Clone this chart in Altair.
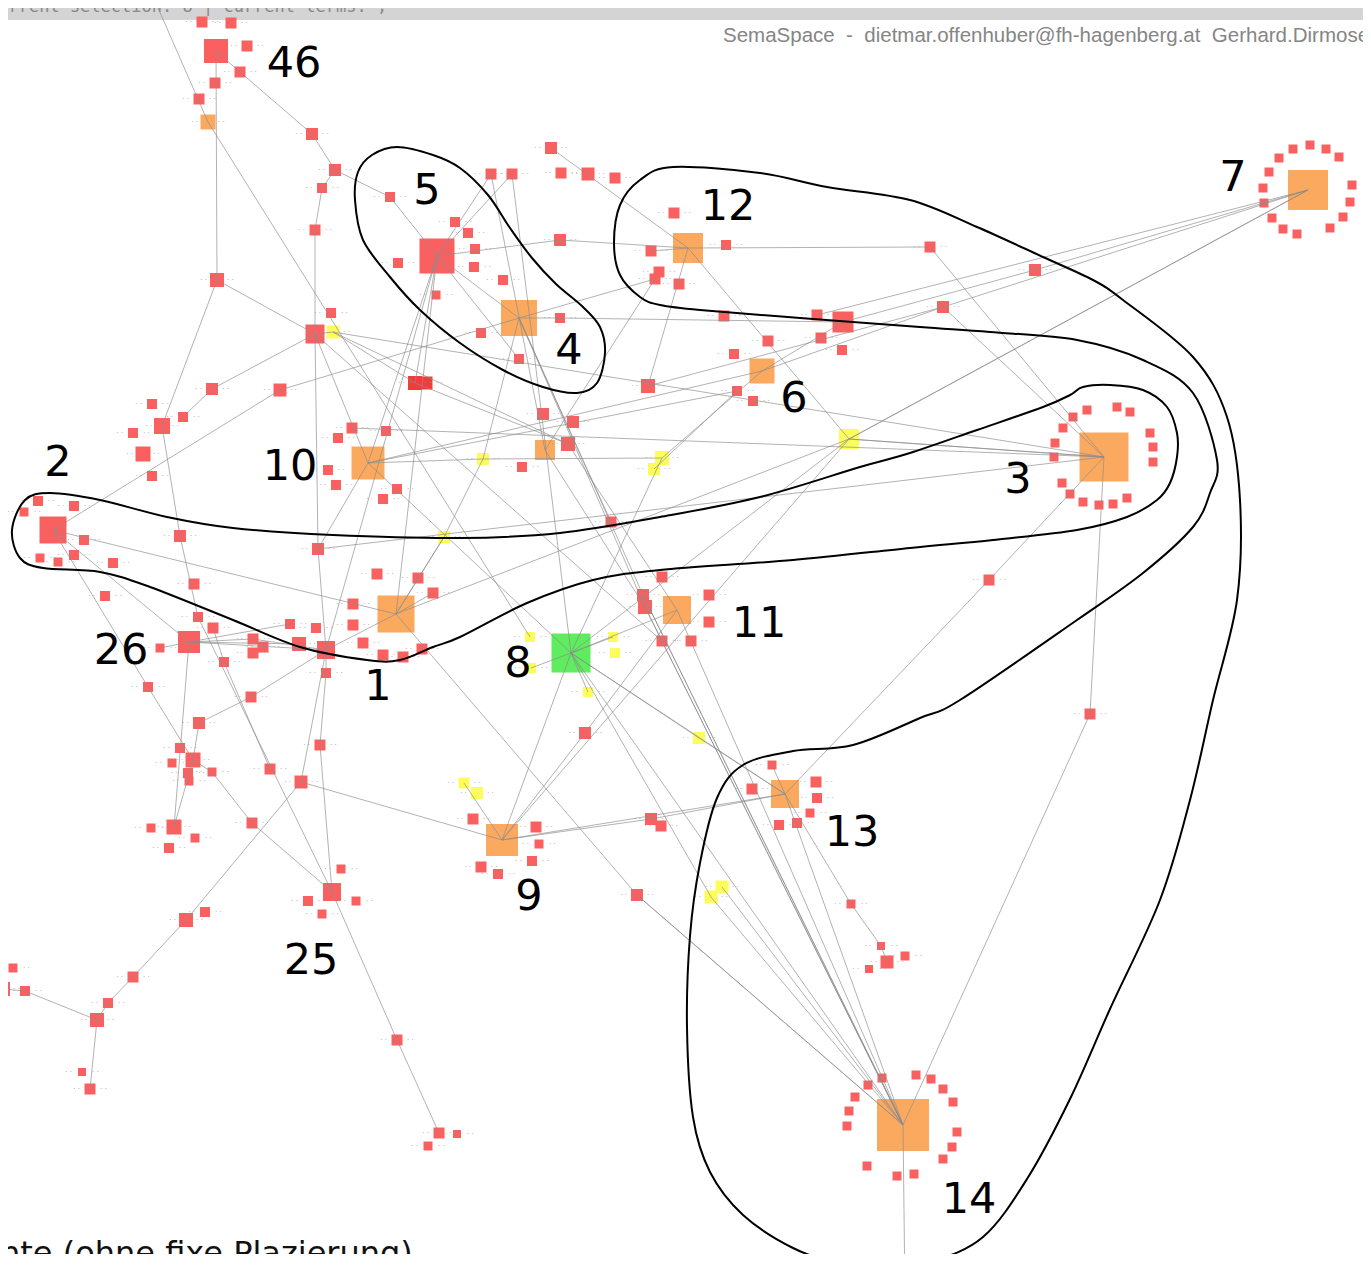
import altair as alt
import pandas as pd

# ---------------- hubs ----------------
hub_names = ["46", "5", "4", "12", "7", "6", "3", "10", "2", "1", "26", "8", "11", "13", "9", "25", "14"]
hub_x = [216, 437, 519, 688, 1308, 762, 1104, 368, 53, 396, 189, 571, 677, 785, 502, 332, 903]
hub_y = [51, 256, 318, 248, 190, 371, 457, 463, 530, 614, 642, 653, 610, 794, 840, 892, 1125]
hub_side = [24, 35, 36, 30, 40, 25, 49, 33, 27, 37, 22, 39, 28, 28, 32, 18, 52]
hub_kind = ["r", "r", "o", "o", "o", "o", "o", "o", "r", "o", "r", "g", "o", "o", "o", "r", "o"]

# label positions (center x, baseline y)
label_text = ["46", "5", "12", "7", "4", "6", "2", "10", "3", "11", "26", "8", "1", "13", "9", "25", "14"]
label_x = [294, 427, 728, 1233, 569, 794, 58, 290, 1018, 759, 121, 518, 378, 852, 529, 311, 969]
label_y = [77, 204, 220, 191, 364, 412, 476, 480, 493, 637, 664, 677, 700, 846, 910, 974, 1213]

# ---------------- other nodes ----------------
small_names = [
    "top0", "bot0",
    "a1", "a2", "a3", "a4", "a5", "a6", "a7", "a8", "a9", "a10", "a11", "a12", "a13", "a14", "a15", "a16",
    "a17", "a18", "a19", "a20", "a21", "a22", "a23", "a24", "a25", "a26", "a27", "a28", "a29", "a30",
    "a31", "a32", "a33", "a34", "a35", "a36",
    "b1", "b2", "b3", "b4", "b4a", "b5", "b6", "b7", "b8", "b9", "b10", "b11", "b12", "b13", "b14", "b15",
    "b16", "b17", "b18", "b19", "b20", "b21", "b22", "b23", "b24", "b25", "b26", "b27", "b28", "b29",
    "b30", "b31", "b32", "b33", "b34", "b35", "b36", "b37", "b38", "b39", "b40", "b41", "b42", "b43",
    "c1", "c2", "c3", "c4", "c5", "c6", "c7", "c8", "c9", "c10", "c11", "c12", "c13", "c14", "c15",
    "c16", "c17", "c18", "c19", "c20", "c21", "c22", "c23", "c24", "c25", "c26", "c27", "c28", "c29",
    "c30", "c31", "c32", "c33", "c34", "c35", "c36", "c37", "c38", "c39", "c40", "c41", "c42", "c43",
    "c44", "c45", "c46", "c47", "c48",
    "d1", "d2", "d3", "d4", "d5", "d6", "d7", "d8", "d9", "d10", "d11", "d12", "d13", "d14", "d15",
    "d16", "d17", "d18", "d19", "d20", "d21", "d22", "d23", "d24", "d25", "d26", "d27", "d28", "d29",
    "d30", "d31", "d32", "d33", "d34", "d35", "d36", "d37", "d38", "d39", "d40", "d41", "d42", "d43",
    "d44", "d45", "d46", "d47", "d48", "d49", "d50", "d51", "d52", "d53", "d54", "d55", "d56", "d57",
    "d58", "d59", "d60", "d61",
]
small_x = [
    148, 905,
    208, 199, 215, 240, 247, 202, 231, 312, 335, 322, 315, 390, 217, 398, 455, 436,
    551, 491, 512, 561, 588, 615, 560, 468, 475, 474, 503, 674, 726, 651,
    659, 655, 679, 930, 1035, 943,
    315, 333, 331, 415, 426, 212, 280, 152, 183, 162, 133, 143, 152, 352, 386, 338,
    328, 336, 397, 383, 560, 481, 519, 543, 573, 568, 522, 611, 724, 817,
    843, 768, 821, 842, 734, 648, 737, 753, 545, 483, 662, 654, 849, 444,
    38, 24, 74, 84, 74, 40, 58, 113, 180, 318, 194, 105, 198, 213, 377,
    418, 433, 353, 353, 363, 383, 403, 422, 160, 224, 253, 263, 253, 290,
    299, 326, 326, 316, 148, 662, 643, 645, 709, 709, 662, 691, 530, 613,
    615, 531, 588, 989, 1090,
    251, 199, 180, 193, 172, 188, 189, 212, 270, 320, 301, 252, 174, 151, 195,
    169, 341, 308, 356, 322, 205, 186, 133, 108, 97, 13, 3, 25, 82,
    90, 397, 439, 428, 457, 585, 699, 772, 752, 816, 817, 810, 779, 797,
    464, 477, 473, 536, 539, 532, 481, 498, 651, 661, 637, 722, 711, 851,
    881, 887, 905, 869,
]
small_y = [
    -15, 1295,
    122, 99, 83, 72, 46, 22, 23, 134, 170, 188, 230, 197, 280, 263, 222, 295,
    148, 174, 174, 173, 174, 178, 240, 233, 249, 267, 280, 213, 245, 251,
    272, 279, 284, 247, 270, 307,
    334, 332, 313, 383, 383, 389, 390, 404, 417, 426, 433, 454, 476, 428, 431, 438,
    470, 485, 489, 499, 318, 333, 359, 414, 422, 444, 467, 522, 316, 315,
    322, 341, 338, 350, 354, 386, 391, 401, 450, 459, 458, 469, 439, 537,
    501, 512, 506, 540, 555, 558, 562, 563, 536, 549, 584, 596, 617, 628, 574,
    578, 593, 604, 625, 643, 655, 657, 649, 648, 662, 639, 647, 653, 624,
    644, 650, 673, 628, 687, 577, 595, 607, 595, 622, 641, 641, 637, 637,
    653, 668, 692, 580, 714,
    697, 723, 748, 760, 763, 773, 781, 772, 769, 745, 782, 823, 827, 828, 838,
    848, 869, 901, 901, 914, 912, 920, 977, 1003, 1020, 968, 989, 991, 1072,
    1089, 1040, 1133, 1146, 1134, 733, 738, 765, 789, 782, 798, 813, 825, 823,
    783, 793, 819, 827, 844, 861, 867, 874, 819, 826, 895, 887, 897, 904,
    946, 962, 956, 969,
]
small_side = [
    12, 0,
    15, 11, 11, 11, 11, 11, 11, 12, 12, 10, 11, 10, 14, 10, 10, 9,
    12, 11, 11, 11, 13, 11, 12, 10, 10, 10, 10, 11, 10, 11,
    11, 11, 11, 11, 12, 12,
    19, 13, 10, 14, 13, 12, 13, 10, 10, 16, 10, 15, 10, 11, 10, 10,
    10, 10, 10, 10, 10, 10, 10, 12, 12, 14, 10, 11, 11, 11,
    21, 11, 11, 10, 10, 14, 10, 10, 20, 12, 14, 12, 20, 12,
    10, 9, 10, 10, 10, 9, 9, 10, 12, 12, 11, 10, 10, 11, 11,
    11, 11, 11, 11, 11, 11, 11, 11, 9, 10, 11, 11, 11, 10,
    14, 18, 10, 10, 10, 11, 12, 14, 11, 11, 11, 11, 10, 10,
    10, 10, 10, 11, 11,
    11, 12, 10, 15, 9, 10, 9, 9, 11, 11, 13, 11, 15, 9, 9,
    10, 9, 10, 9, 9, 10, 14, 11, 10, 14, 9, 14, 10, 8,
    11, 11, 11, 9, 8, 12, 12, 9, 11, 11, 10, 9, 10, 10,
    11, 12, 11, 11, 9, 10, 11, 10, 12, 11, 12, 13, 13, 9,
    8, 13, 9, 8,
]
small_kind = [
    "r", "r",
    "o", "r", "r", "r", "r", "r", "r", "r", "r", "r", "r", "r", "r", "r", "r", "r",
    "r", "r", "r", "r", "r", "r", "r", "r", "r", "r", "r", "r", "r", "r",
    "r", "r", "r", "r", "r", "r",
    "r", "y", "r", "d", "d", "r", "r", "r", "r", "r", "r", "r", "r", "r", "r", "r",
    "r", "r", "r", "r", "r", "r", "r", "r", "r", "r", "r", "r", "r", "r",
    "r", "r", "r", "r", "r", "r", "r", "r", "o", "y", "y", "y", "y", "y",
    "r", "r", "r", "r", "r", "r", "r", "r", "r", "r", "r", "r", "r", "r", "r",
    "r", "r", "r", "r", "r", "r", "r", "r", "r", "r", "r", "r", "r", "r",
    "r", "r", "r", "r", "r", "r", "r", "r", "r", "r", "r", "r", "y", "y",
    "y", "y", "y", "r", "r",
    "r", "r", "r", "r", "r", "r", "r", "r", "r", "r", "r", "r", "r", "r", "r",
    "r", "r", "r", "r", "r", "r", "r", "r", "r", "r", "r", "r", "r", "r",
    "r", "r", "r", "r", "r", "r", "y", "r", "r", "r", "r", "r", "r", "r",
    "y", "y", "r", "r", "r", "r", "r", "r", "r", "r", "r", "y", "y", "r",
    "r", "r", "r", "r",
]

# rings of small nodes around hubs 3, 7 and 14
ring3_x = [1087, 1117, 1130, 1073, 1063, 1055, 1054, 1150, 1153, 1153, 1062, 1070, 1083, 1099, 1113, 1127]
ring3_y = [410, 407, 412, 417, 428, 443, 457, 433, 447, 462, 483, 494, 502, 505, 504, 498]
ring7_x = [1310, 1293, 1326, 1339, 1279, 1269, 1263, 1264, 1272, 1283, 1297, 1330, 1343, 1350, 1352]
ring7_y = [145, 149, 149, 157, 158, 172, 188, 203, 218, 229, 234, 228, 217, 202, 185]
ring14_x = [882, 868, 916, 931, 943, 953, 855, 849, 847, 957, 952, 943, 867, 897, 914]
ring14_y = [1078, 1085, 1075, 1079, 1089, 1102, 1097, 1111, 1126, 1132, 1147, 1159, 1166, 1176, 1174]

# ---------------- edges ----------------
edge_from = [
    "top0", "a1", "46", "46", "a4", "a8", "a9", "a12", "a9", "a10", "a11", "a13", "a13", "b9", "c9",
    "2", "b6", "b5", "b5", "b1", "b1", "b2", "b4", "b2", "b1", "b1", "c10",
    "5", "5", "a23", "12", "5", "5", "10", "a18", "a19", "a18", "a19",
    "a17", "12", "12", "a32", "a32",
    "4", "b20", "b30", "a35", "7", "7", "b42", "b42", "b42",
    "3", "3", "3", "c48", "3", "c47",
    "10", "10", "6", "6", "b35", "6", "b40", "b36", "10", "b39", "10", "10",
    "2", "1", "1", "1", "d54",
    "2", "2", "c34", "26", "26", "26", "c26", "26", "c13", "c14", "c25",
    "25", "d31", "25", "d10", "c32", "25", "d12", "d8", "d4",
    "d11", "d11", "d22", "d23", "d24", "d25", "d28", "d25", "d11",
    "d2", "d1", "d2",
    "9", "9", "d52", "9", "9", "9", "d35",
    "8", "8", "8", "d36", "8", "8", "d56", "d55", "c37", "c36", "11",
    "13", "d57", "d58", "13", "13",
    "4", "b38", "b25", "14",
    "4", "b39", "b43", "9", "3", "3", "3", "3", "7", "7", "14", "14", "14",
    "5", "5", "12", "4", "4", "8", "8", "8", "1", "26", "26",
]
edge_to = [
    "a1", "c42", "a13", "a4", "a8", "a9", "a12", "5", "a10", "a11", "b1", "b1", "b9", "c9", "c13",
    "b6", "4", "b1", "b8", "10", "b2", "b4", "b25", "b25", "c40", "c10", "c31",
    "4", "a23", "12", "a34", "c31", "1", "5", "5", "5", "b38", "8",
    "12", "b42", "a30", "4", "b38",
    "b20", "b30", "a35", "7", "b42", "b42", "1", "3", "8",
    "a34", "a36", "c48", "14", "c47", "13",
    "6", "b36", "b30", "a36", "a36", "b40", "8", "b41", "b39", "b40", "c10", "8",
    "1", "c17", "c31", "d54", "14",
    "26", "c34", "d4", "c26", "c30", "c31", "c31", "d13", "25", "c25", "d9",
    "d31", "d32", "d10", "c32", "c31", "d12", "d8", "d4", "d13",
    "9", "d22", "d23", "d24", "d25", "d28", "d27", "d30", "c31",
    "d1", "c31", "d4",
    "13", "d52", "13", "8", "d44", "d35", "11",
    "11", "13", "d36", "13", "14", "d56", "14", "14", "14", "14", "14",
    "d57", "d58", "d59", "14", "d37",
    "c36", "c37", "11", "bot0",
    "b39", "b43", "1", "b42", "b2", "b42", "b13", "c10", "a36", "b29", "c37", "d54", "c36",
    "b4", "b22", "b35", "c37", "b27", "c45", "c43", "c46", "b43", "c24", "c29",
]

# ---------------- outline curves ----------------
curveA_x = [397, 433, 460, 488, 510, 532, 556, 583, 600, 605, 597, 577, 543, 503, 460, 420, 390, 363, 355, 358, 372]
curveA_y = [147, 155, 168, 195, 228, 258, 284, 307, 327, 353, 383, 393, 387, 370, 343, 310, 277, 240, 200, 172, 155]

curveB_x = [12, 20, 43, 100, 150, 233, 300, 367, 400, 433, 460, 527, 593, 660, 793, 910, 993, 1077, 1127,
            1157, 1170, 1177, 1177, 1167, 1143, 1110, 1083, 1070, 1043, 977, 910, 860, 760, 660, 560, 460,
            333, 233, 167, 100, 50, 25]
curveB_y = [530, 558, 568, 572, 587, 620, 647, 660, 660, 647, 637, 603, 580, 570, 560, 548, 540, 530, 517,
            500, 483, 457, 433, 407, 390, 385, 387, 395, 407, 430, 453, 467, 497, 517, 533, 538,
            535, 528, 517, 500, 493, 500]

curveC_x = [673, 760, 827, 910, 977, 1043, 1093, 1123, 1193, 1227, 1240, 1237, 1213, 1190, 1160, 1110, 1070,
            1027, 983, 930, 880, 843, 793, 743, 710, 693, 687, 690, 700, 717, 743, 793, 853, 920, 960,
            1077, 1143, 1193, 1210, 1217, 1193, 1143, 1077, 990, 920, 800, 700, 660, 640, 620, 614, 620, 640]
curveC_y = [167, 173, 187, 200, 227, 257, 280, 300, 357, 417, 500, 600, 700, 800, 900, 1009, 1099,
            1179, 1237, 1262, 1269, 1265, 1248, 1215, 1172, 1117, 1027, 936, 863, 798, 765, 751, 745, 718, 700,
            620, 573, 527, 493, 460, 393, 360, 340, 332, 327, 318, 310, 305, 297, 275, 243, 205, 180]

# ---------------- texts ----------------
NB = "\u00a0"
header_text = "current selection: 8 | current terms: ;"
credit_text = ("SemaSpace" + NB * 2 + "-" + NB * 2 + "dietmar.offenhuber@fh-hagenberg.at"
               + NB * 2 + "Gerhard.Dirmoser@energieag.at")
footer_text = "nte (ohne fixe Plazierung)"
tiny_label = "·" + NB + "·" + NB * 9 + "·" + NB + "·"

COLORS = {"r": "#fb6060", "o": "#fba95f", "y": "#fcfc5a", "g": "#5fec5f", "d": "#f23c3c"}

# ---------------- build tables ----------------
nodes = pd.DataFrame({
    "name": hub_names + small_names
    + [f"r3_{i}" for i in range(len(ring3_x))]
    + [f"r7_{i}" for i in range(len(ring7_x))]
    + [f"r14_{i}" for i in range(len(ring14_x))],
    "x": hub_x + small_x + ring3_x + ring7_x + ring14_x,
    "y": hub_y + small_y + ring3_y + ring7_y + ring14_y,
    "side": hub_side + small_side + [9] * len(ring3_x) + [9] * len(ring7_x) + [9] * len(ring14_x),
    "kind": hub_kind + small_kind + ["r"] * (len(ring3_x) + len(ring7_x) + len(ring14_x)),
})
nodes["area"] = nodes["side"] ** 2
nodes["fill"] = nodes["kind"].map(COLORS)
pos = nodes.set_index("name")

tiny = nodes[(nodes["side"] > 0) & (nodes["side"] <= 16) & nodes["name"].isin(small_names)].copy()
tiny["t"] = tiny_label

edges = pd.DataFrame({
    "x": [pos.loc[a, "x"] for a in edge_from],
    "y": [pos.loc[a, "y"] for a in edge_from],
    "x2": [pos.loc[b, "x"] for b in edge_to],
    "y2": [pos.loc[b, "y"] for b in edge_to],
})

curves = pd.concat([
    pd.DataFrame({"c": "A", "i": range(len(curveA_x)), "x": curveA_x, "y": curveA_y}),
    pd.DataFrame({"c": "B", "i": range(len(curveB_x)), "x": curveB_x, "y": curveB_y}),
    pd.DataFrame({"c": "C", "i": range(len(curveC_x)), "x": curveC_x, "y": curveC_y}),
])

labels = pd.DataFrame({"t": label_text, "x": label_x, "y": label_y})

# plot area placed so that data coordinates equal page pixels (8px page margin)
W, H = 1355, 1246
XS = alt.Scale(domain=[8, 8 + W], nice=False, zero=False)
YS = alt.Scale(domain=[8, 8 + H], nice=False, zero=False, reverse=True)


def X(f="x"):
    return alt.X(f"{f}:Q", scale=XS, axis=None)


def Y(f="y"):
    return alt.Y(f"{f}:Q", scale=YS, axis=None)


bar = alt.Chart(pd.DataFrame({"x": [-10], "x2": [1400], "y": [-10], "y2": [20]})).mark_rect(
    color="#d4d4d4"
).encode(x=X(), x2="x2:Q", y=Y(), y2="y2:Q")

header = alt.Chart(pd.DataFrame({"x": [-12], "y": [12], "t": [header_text]})).mark_text(
    font="DejaVu Sans Mono", fontSize=17, color="#8a8a8a", align="left", baseline="alphabetic"
).encode(x=X(), y=Y(), text="t:N")

credit = alt.Chart(pd.DataFrame({"x": [723], "y": [42], "t": [credit_text]})).mark_text(
    font="Liberation Sans", fontSize=20.5, color="#858585", align="left", baseline="alphabetic"
).encode(x=X(), y=Y(), text="t:N")

footer = alt.Chart(pd.DataFrame({"x": [0], "y": [1264], "t": [footer_text]})).mark_text(
    font="DejaVu Sans", fontSize=32, color="#111111", align="left", baseline="alphabetic"
).encode(x=X(), y=Y(), text="t:N")

node_layer = alt.Chart(nodes).mark_square(filled=True, opacity=1, strokeWidth=0).encode(
    x=X(), y=Y(), size=alt.Size("area:Q", scale=None), color=alt.Color("fill:N", scale=None)
)

tiny_layer = alt.Chart(tiny).mark_text(
    font="DejaVu Sans", fontSize=7, color="#9a9a9a", align="center", baseline="middle"
).encode(x=X(), y=Y(), text="t:N")

edge_layer = alt.Chart(edges).mark_rule(color="#8c8c8c", strokeWidth=0.9, opacity=0.75).encode(
    x=X(), y=Y(), x2="x2:Q", y2="y2:Q"
)

curve_layer = alt.Chart(curves).mark_line(
    color="black", strokeWidth=2, interpolate="cardinal-closed"
).encode(x=X(), y=Y(), detail="c:N", order="i:Q")

label_layer = alt.Chart(labels).mark_text(
    font="DejaVu Sans", fontSize=43, color="black", align="center", baseline="alphabetic"
).encode(x=X(), y=Y(), text="t:N")

chart = alt.layer(
    bar, header, credit, node_layer, tiny_layer, edge_layer, curve_layer, label_layer, footer
).properties(
    width=W, height=H, padding=0, autosize=alt.AutoSizeParams(type="none"),
    background="white",
).configure_view(stroke=None)

chart.save("out.html", embed_options={"renderer": "svg", "actions": False})
